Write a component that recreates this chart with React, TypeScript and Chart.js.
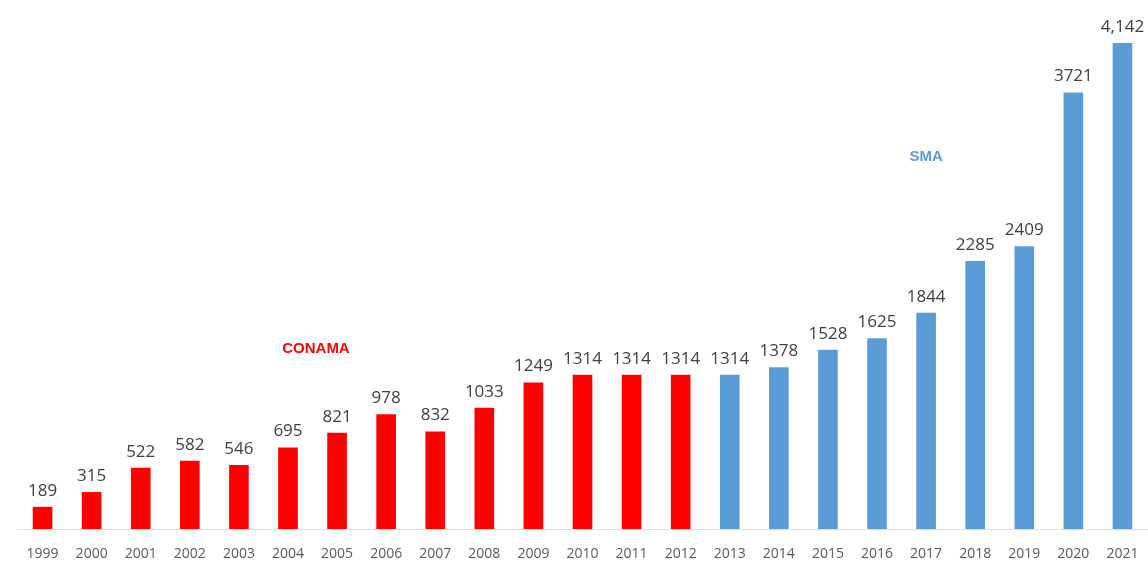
import React, { useEffect, useRef } from "react";
import { Chart, registerables } from "chart.js";

Chart.register(...registerables);

const years = ["1999","2000","2001","2002","2003","2004","2005","2006","2007","2008","2009","2010","2011","2012","2013","2014","2015","2016","2017","2018","2019","2020","2021"];
const values = [189,315,522,582,546,695,821,978,832,1033,1249,1314,1314,1314,1314,1378,1528,1625,1844,2285,2409,3721,4142];
const valueLabels = ["189","315","522","582","546","695","821","978","832","1033","1249","1314","1314","1314","1314","1378","1528","1625","1844","2285","2409","3721","4,142"];
const agencies = ["CONAMA","CONAMA","CONAMA","CONAMA","CONAMA","CONAMA","CONAMA","CONAMA","CONAMA","CONAMA","CONAMA","CONAMA","CONAMA","CONAMA","SMA","SMA","SMA","SMA","SMA","SMA","SMA","SMA","SMA"];
const agencyNotes = [
  { text: "CONAMA", xIndex: 5.57, yValue: 1537, color: "#FF0000" },
  { text: "SMA", xIndex: 18.0, yValue: 3168, color: "#5B9BD5" },
];

const RED = "#FF0000";
const BLUE = "#5B9BD5";

export default function App() {
  const ref = useRef<HTMLCanvasElement>(null);
  useEffect(() => {
    document.body.style.margin = "0";
    const labelPlugin = {
      id: "labels",
      afterDatasetsDraw(chart: any) {
        const ctx = chart.ctx;
        const meta = chart.getDatasetMeta(0);
        ctx.save();
        ctx.font = "17px 'Open Sans', sans-serif";
        ctx.fillStyle = "#404040";
        ctx.textAlign = "center";
        ctx.textBaseline = "alphabetic";
        meta.data.forEach((bar: any, i: number) => {
          ctx.fillText(valueLabels[i], bar.x, bar.y - 11);
        });
        const xs = chart.scales.x;
        const ys = chart.scales.y;
        ctx.font = "bold 15px Arial, 'Liberation Sans', sans-serif";
        ctx.textBaseline = "middle";
        agencyNotes.forEach((n) => {
          const x0 = xs.getPixelForValue(Math.floor(n.xIndex));
          const x1 = xs.getPixelForValue(Math.floor(n.xIndex) + 1);
          const x = x0 + (x1 - x0) * (n.xIndex - Math.floor(n.xIndex));
          ctx.fillStyle = n.color;
          ctx.fillText(n.text, x, ys.getPixelForValue(n.yValue));
        });
        ctx.restore();
      },
    };
    const chart = new Chart(ref.current!, {
      type: "bar",
      data: {
        labels: years,
        datasets: [
          {
            data: values,
            backgroundColor: agencies.map((a) => (a === "CONAMA" ? RED : BLUE)),
            barPercentage: 0.4,
            categoryPercentage: 1,
          },
        ],
      },
      options: {
        animation: false,
        responsive: false,
        maintainAspectRatio: false,
        layout: { padding: { top: 1, left: 18, right: 1, bottom: 0 } },
        plugins: { legend: { display: false }, tooltip: { enabled: false } },
        scales: {
          x: {
            grid: { display: false },
            border: { display: true, color: "#e0e0e0", width: 1 },
            ticks: { color: "#595959", font: { size: 14, family: "'Open Sans', sans-serif" }, padding: 9, maxRotation: 0, autoSkip: false },
            afterFit(scale: any) { scale.height = 32; },
          },
          y: { display: false, min: 0, max: 4500 },
        },
      },
      plugins: [labelPlugin],
    });
    return () => chart.destroy();
  }, []);
  return <canvas ref={ref} width={1148} height={561} style={{ display: "block" }} />;
}
